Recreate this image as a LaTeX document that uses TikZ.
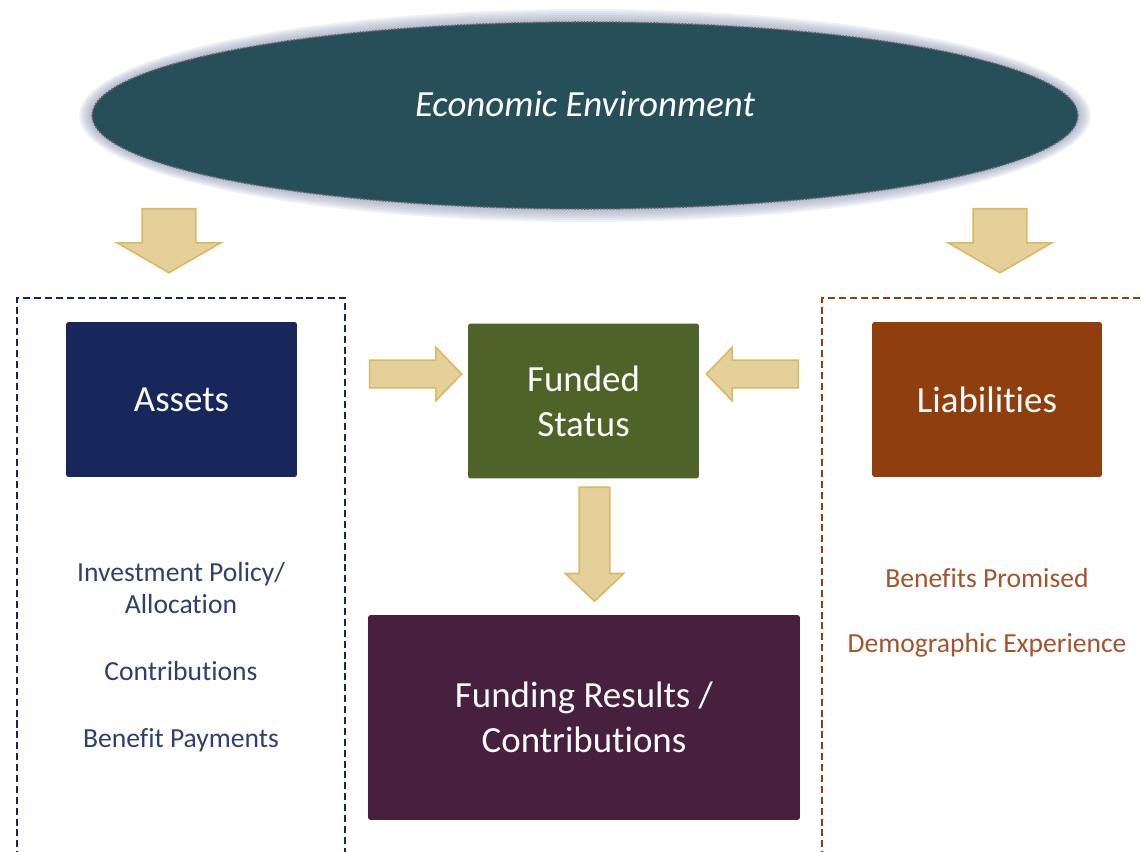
\documentclass[tikz,border=0pt]{standalone}
\usepackage{fontspec}
\setmainfont{Carlito}[Ligatures={NoCommon,NoContextual,NoRare}]
\usetikzlibrary{shapes.geometric,shapes.arrows}

\definecolor{envteal}{HTML}{274F5A}
\definecolor{envglow}{HTML}{8C93B4}
\definecolor{assetblue}{HTML}{17275B}
\definecolor{fundgreen}{HTML}{4F6228}
\definecolor{liabbrown}{HTML}{8E3F0D}
\definecolor{resultplum}{HTML}{471F3F}
\definecolor{arrowfill}{HTML}{E6D099}
\definecolor{arrowline}{HTML}{DAB964}
\definecolor{navytext}{HTML}{2E3F70}
\definecolor{browntext}{HTML}{A4532A}

\tikzset{
    mainbox/.style={rectangle, rounded corners=1.5pt, text=white, align=center,
        font=\fontsize{21}{25.5}\selectfont, inner sep=0pt},
    fatarrow/.style={single arrow, draw=arrowline, fill=arrowfill, line width=0.9pt,
        inner xsep=0pt, minimum size=0pt},
    sidetext/.style={align=center, font=\fontsize{15.7}{18}\selectfont}
}

\begin{document}
\begin{tikzpicture}[x=0.02cm, y=-0.02cm]
    \useasboundingbox (0,0) rectangle (1141,851);

    % economic environment with its soft halo
    \coordinate (envc) at (585,115.5);
    \foreach \r in {13,11,...,1}
        \fill[envglow, opacity=0.13] (envc) ellipse ({9.86cm+\r*0.02cm} and {1.87cm+\r*0.02cm});
    \node[ellipse, fill=envteal, draw=gray!80!black, line width=0.9pt,
          dash pattern=on 0.9pt off 0.9pt, minimum width=19.72cm, minimum height=3.74cm,
          text=white, text depth=0.45cm, font=\fontsize{21}{25}\selectfont\itshape] (env) at (envc) {Economic Environment};

    % dashed groups
    \draw[assetblue, line width=1.1pt, dash pattern=on 4pt off 2.2pt] (17,880) -- (17,298) -- (345,298) -- (345,880);
    \draw[liabbrown, line width=1.1pt, dash pattern=on 4pt off 2.2pt] (822,880) -- (822,298) -- (1170,298);

    % main boxes
    \node[mainbox, fill=assetblue, minimum width=4.62cm, minimum height=3.1cm] (assets) at (181.5,399.5) {Assets};
    \node[mainbox, fill=fundgreen, minimum width=4.62cm, minimum height=3.1cm] (funded) at (583.5,401) {Funded\\Status};
    \node[mainbox, fill=liabbrown, minimum width=4.6cm, minimum height=3.1cm] (liab) at (987,399.5) {Liabilities};
    \node[mainbox, fill=resultplum, minimum width=8.64cm, minimum height=4.1cm] (results) at (584,717.5) {Funding Results /\\Contributions};

    % block arrows
    \node[fatarrow, rotate=-90, inner ysep=0.52cm, minimum height=1.28cm,
          single arrow head extend=0.5cm, single arrow tip angle=120] (toassets) at (169,233) {};
    \node[fatarrow, rotate=-90, inner ysep=0.52cm, minimum height=1.28cm,
          single arrow head extend=0.5cm, single arrow tip angle=120] (toliab) at (1000,233) {};
    \node[fatarrow, inner ysep=0.26cm, minimum height=1.84cm,
          single arrow head extend=0.26cm, single arrow tip angle=92] (assetsfund) at (409,374) {};
    \node[fatarrow, rotate=180, inner ysep=0.26cm, minimum height=1.84cm,
          single arrow head extend=0.26cm, single arrow tip angle=92] (liabfund) at (759,374) {};
    \node[fatarrow, rotate=-90, inner ysep=0.29cm, minimum height=2.28cm,
          single arrow head extend=0.28cm, single arrow tip angle=93] (fundresult) at (594.5,537) {};

    % drivers under each side
    \node[sidetext, text=navytext] (policy) at (181,588) {Investment Policy/\\Allocation};
    \node[sidetext, text=navytext] (contrib) at (181,671) {Contributions};
    \node[sidetext, text=navytext] (payments) at (181,740) {Benefit Payments};
    \node[sidetext, text=browntext] (promised) at (987,578) {Benefits Promised};
    \node[sidetext, text=browntext] (demog) at (987,645) {Demographic Experience};
\end{tikzpicture}
\end{document}
